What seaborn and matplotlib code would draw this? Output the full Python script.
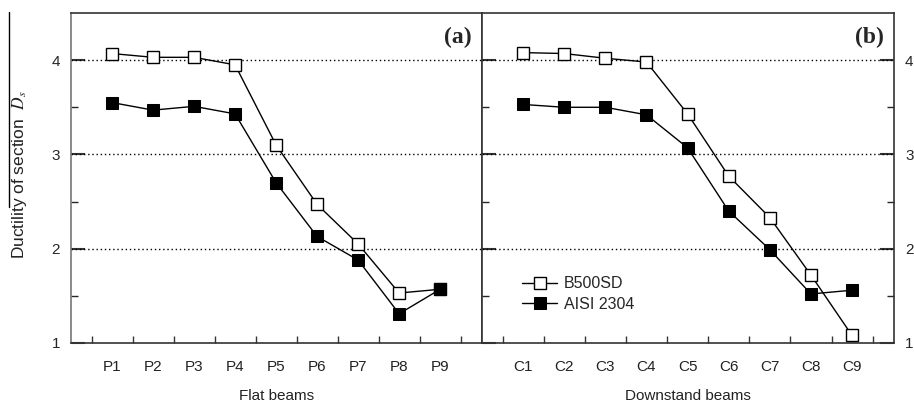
import numpy as np
import pandas as pd
import matplotlib
matplotlib.use("Agg")
import matplotlib.pyplot as plt
import seaborn as sns
from matplotlib.lines import Line2D
from matplotlib.ticker import FixedLocator

sns.set_theme(style="white")
plt.rcParams['font.family'] = ['Liberation Sans', 'DejaVu Sans']
plt.rcParams['mathtext.fontset'] = 'stix'

flat_labels = ["P1", "P2", "P3", "P4", "P5", "P6", "P7", "P8", "P9"]
flat_b500 = [4.07, 4.03, 4.03, 3.95, 3.10, 2.47, 2.05, 1.53, 1.57]
flat_aisi = [3.55, 3.47, 3.51, 3.43, 2.70, 2.13, 1.88, 1.31, 1.57]

down_labels = ["C1", "C2", "C3", "C4", "C5", "C6", "C7", "C8", "C9"]
down_b500 = [4.08, 4.07, 4.02, 3.98, 3.43, 2.77, 2.33, 1.72, 1.08]
down_aisi = [3.53, 3.50, 3.50, 3.42, 3.07, 2.40, 1.99, 1.52, 1.56]

series_names = ["B500SD", "AISI 2304"]
panel_tags = ["(a)", "(b)"]
x_titles = ["Flat beams", "Downstand beams"]
y_title = r"Ductility of section  $\mathit{D_s}$"

W, H = 914, 404
fig = plt.figure(figsize=(W / 100, H / 100), dpi=100)
L, M, R = 71, 482, 894
T, B = 13, 343
axA = fig.add_axes([L / W, 1 - B / H, (M - L) / W, (B - T) / H])
axB = fig.add_axes([M / W, 1 - B / H, (R - M) / W, (B - T) / H])

panels = [(axA, flat_labels, flat_b500, flat_aisi),
          (axB, down_labels, down_b500, down_aisi)]

for i, (ax, labels, b500, aisi) in enumerate(panels):
    pos = np.arange(1, len(labels) + 1)
    df = pd.DataFrame({"x": np.concatenate([pos, pos]),
                       "y": np.concatenate([b500, aisi]),
                       "s": [series_names[0]] * len(pos) + [series_names[1]] * len(pos)})
    for gy in [2, 3, 4]:
        ax.axhline(gy, color="black", lw=1.0, ls=(0, (1, 2)), zorder=1)
    sns.lineplot(data=df[df.s == series_names[0]], x="x", y="y", ax=ax,
                 color="black", lw=1.0, marker="s", markersize=8,
                 markerfacecolor="white", markeredgecolor="black", markeredgewidth=1.0,
                 label=series_names[0], zorder=3)
    sns.lineplot(data=df[df.s == series_names[1]], x="x", y="y", ax=ax,
                 color="black", lw=1.0, marker="s", markersize=8,
                 markerfacecolor="black", markeredgecolor="black",
                 label=series_names[1], zorder=4)
    ax.set_xlim(0, 10.02)
    ax.set_ylim(1, 4.5)
    ax.set_xticks(pos)
    ax.set_xticklabels(labels, fontsize=11)
    ax.xaxis.set_minor_locator(FixedLocator(np.arange(0.5, 10, 1.0)))
    ax.tick_params(axis="x", which="major", length=0, pad=12, labelsize=11, colors="#222222")
    ax.tick_params(axis="x", which="minor", direction="in", length=5, width=1.0, color="#333333", bottom=True)
    ax.set_yticks([1, 2, 3, 4])
    ax.yaxis.set_minor_locator(FixedLocator([1.5, 2.5, 3.5]))
    ax.set_xlabel(x_titles[i], fontsize=11, labelpad=11, color="#222222")
    ax.set_ylabel("")
    for sp in ax.spines.values():
        sp.set_color("#333333")
        sp.set_linewidth(1.2)
    ax.text(0.975, 0.925, panel_tags[i], transform=ax.transAxes, ha="right", va="center",
            fontsize=17, fontweight="bold", family="Liberation Serif")

axA.tick_params(axis="y", which="major", direction="in", length=10, width=1.5,
                left=True, right=False, labelsize=11, pad=8, color="#333333")
axA.tick_params(axis="y", which="minor", direction="in", length=5, width=1.0, left=True, right=False)
axA.legend_.remove()
axA.spines["left"].set_color("#777777")

axB.tick_params(axis="y", which="major", direction="in", length=10, width=1.5,
                left=True, right=True, labelleft=False, labelright=True, labelsize=11, pad=8,
                color="#333333")
axB.tick_params(axis="y", which="minor", direction="in", length=5, width=1.0, left=True, right=True)

leg = axB.legend(loc="lower left", bbox_to_anchor=(0.07, 0.06), frameon=False, fontsize=11.5,
                 handlelength=2.2, handletextpad=0.4, labelspacing=0.35, borderpad=0.2)

fig.text(20 / W, 1 - 175 / H, y_title, rotation=90, ha="center", va="center", fontsize=12.5,
         color="#222222")
fig.add_artist(Line2D([9 / W, 9 / W], [1 - 12 / H, 1 - 207 / H], color="black", lw=1.0,
                      transform=fig.transFigure))

fig.savefig("out.png", dpi=100)
